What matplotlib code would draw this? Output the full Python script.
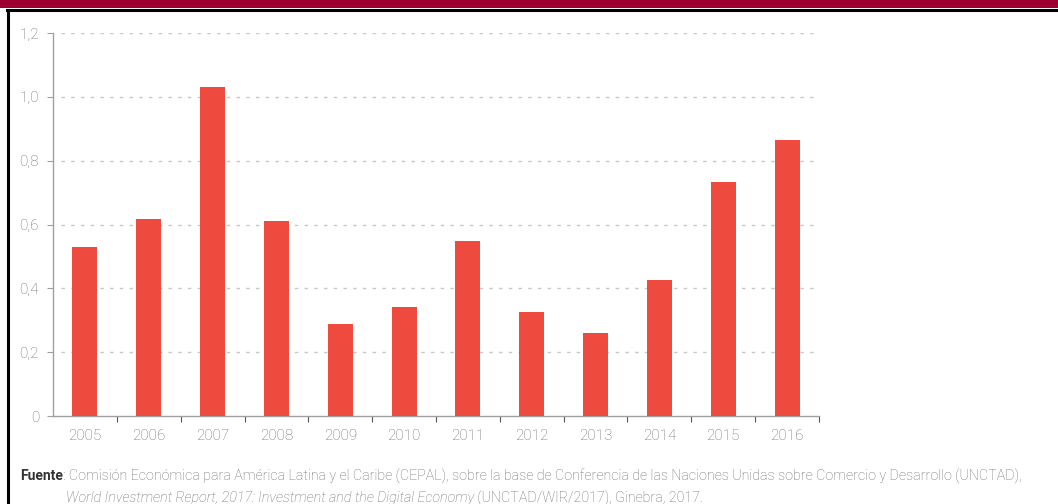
import matplotlib
matplotlib.use("Agg")
import matplotlib.pyplot as plt
from matplotlib.patches import Rectangle
from matplotlib.lines import Line2D

# Data
years = ["2005", "2006", "2007", "2008", "2009", "2010",
         "2011", "2012", "2013", "2014", "2015", "2016"]
values = [0.531, 0.617, 1.030, 0.612, 0.287, 0.343,
          0.549, 0.325, 0.259, 0.425, 0.734, 0.864]
y_ticks = [0, 0.2, 0.4, 0.6, 0.8, 1.0, 1.2]
y_tick_labels = ["0", "0,2", "0,4", "0,6", "0,8", "1,0", "1,2"]

plt.rcParams["font.family"] = ["Roboto", "DejaVu Sans"]
plt.rcParams["font.weight"] = "light"

bar_color = "#EF4A3E"
text_gray = "#6f6f6f"
axis_gray = "#a0a0a0"

fig = plt.figure(figsize=(10.58, 5.04), dpi=100)
ax = fig.add_axes([0.0501, 0.1746, 0.7240, 0.7599])

x = list(range(len(years)))
ax.bar(x, values, width=0.39, color=bar_color, zorder=3)

ax.set_xlim(-0.5, len(years) - 0.5)
ax.set_ylim(0, 1.2)

# y axis
ax.set_yticks(y_ticks)
ax.set_yticklabels(y_tick_labels)
ax.tick_params(axis="y", direction="out", length=4, width=0.8, color=axis_gray,
               labelcolor=text_gray, labelsize=11, pad=6)

# x axis: labels centred on bars, ticks at category boundaries
ax.set_xticks(x)
ax.set_xticklabels(years)
ax.tick_params(axis="x", which="major", length=0, labelcolor=text_gray,
               labelsize=11, pad=9)
ax.set_xticks([i + 0.5 for i in x[:-1]] + [len(years) - 0.5], minor=True)
ax.tick_params(axis="x", which="minor", direction="out", length=4, width=0.8,
               color="#555555")

# dotted horizontal gridlines
for yv in y_ticks[1:]:
    ax.axhline(yv, xmin=0.01, xmax=1.0, color="#c8c8c8", lw=1.0,
               linestyle=(0, (2.5, 4.5)), zorder=1)

for side in ["top", "right"]:
    ax.spines[side].set_visible(False)
ax.spines["left"].set_color(axis_gray)
ax.spines["bottom"].set_color(axis_gray)
ax.spines["left"].set_linewidth(1.0)
ax.spines["bottom"].set_linewidth(1.0)

# frame decorations: maroon band, black rules
fig.add_artist(Rectangle((0, 1 - 8 / 504), 1, 8 / 504, transform=fig.transFigure,
                         color="#9B0030", lw=0))
fig.add_artist(Line2D([0.0066, 1], [1 - 9.5 / 504, 1 - 9.5 / 504],
                      transform=fig.transFigure, color="black", lw=2.2))
fig.add_artist(Line2D([7.5 / 1058, 7.5 / 1058], [0, 1 - 9.5 / 504],
                      transform=fig.transFigure, color="black", lw=2.2))

# source note
fig.text(20 / 1058, 1 - 476 / 504, "Fuente", fontsize=10, fontweight="bold",
         color="#333333", va="center", ha="left")
fig.text(63 / 1058, 1 - 476 / 504,
         ": Comisión Económica para América Latina y el Caribe (CEPAL), sobre la base de "
         "Conferencia de las Naciones Unidas sobre Comercio y Desarrollo (UNCTAD),",
         fontsize=10.3, color=text_gray, va="center", ha="left")
t = fig.text(66 / 1058, 1 - 498 / 504,
             "World Investment Report, 2017: Investment and the Digital Economy",
             fontsize=10.3, color=text_gray, va="center", ha="left", style="italic")
fig.canvas.draw()
bb = t.get_window_extent()
fig.text(bb.x1 / 1058, 1 - 498 / 504, " (UNCTAD/WIR/2017), Ginebra, 2017.",
         fontsize=10.3, color=text_gray, va="center", ha="left")

fig.savefig("out.png", dpi=100)
